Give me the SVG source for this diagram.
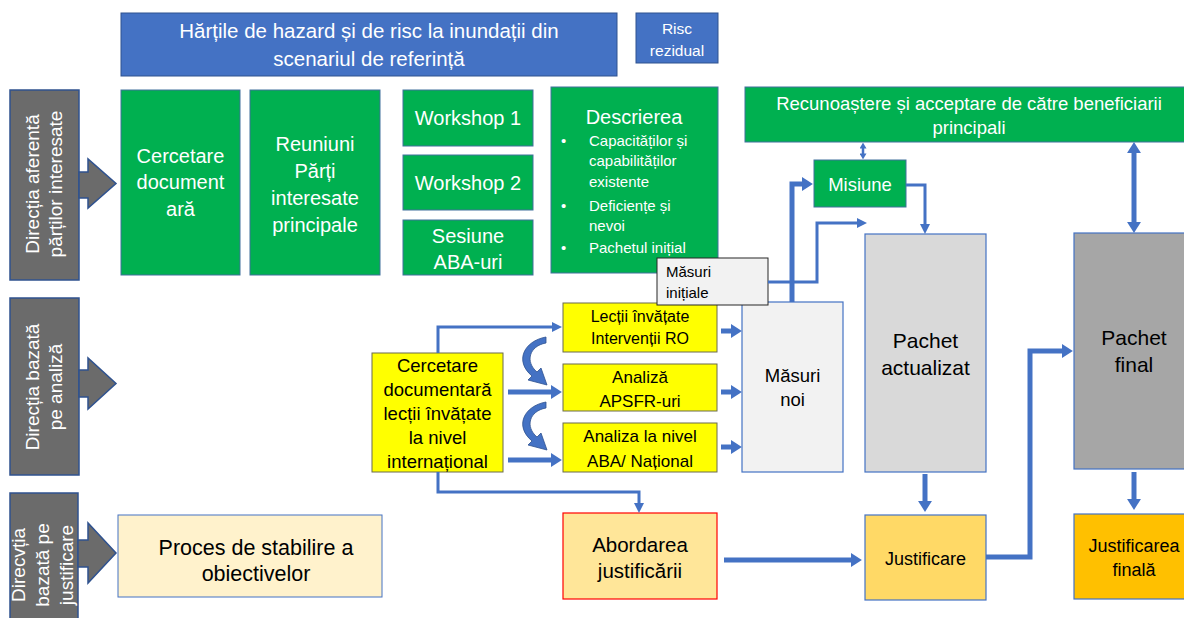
<svg xmlns="http://www.w3.org/2000/svg" width="1184" height="618" viewBox="0 0 1184 618">
<style>
text{font-family:"Liberation Sans",Arial,sans-serif;}
.w{fill:#ffffff;}
.k{fill:#000000;}
.c{text-anchor:middle;}
.blue{fill:#4472c4;stroke:#2f528f;stroke-width:1;}
.green{fill:#00b050;stroke:#41719c;stroke-width:1;}
.panel{fill:#6b6b6b;stroke:#2f528f;stroke-width:1.5;}
.yel{fill:#ffff00;stroke:#6b6b50;stroke-width:1;}
.ln{fill:none;stroke:#4472c4;stroke-width:3;}
.th{fill:none;stroke:#4472c4;stroke-width:5;}
.blk{fill:#4472c4;stroke:#2f528f;stroke-width:0.8;}
</style>
<defs>
<marker id="a0" viewBox="0 0 10 10" refX="1" refY="5" markerWidth="6" markerHeight="7" markerUnits="userSpaceOnUse" orient="auto-start-reverse" preserveAspectRatio="none"><path d="M0,0 L10,5 L0,10 z" fill="#4472c4"/></marker>
<marker id="a1" viewBox="0 0 10 10" refX="1" refY="5" markerWidth="10" markerHeight="10" markerUnits="userSpaceOnUse" orient="auto-start-reverse"><path d="M0,0 L10,5 L0,10 z" fill="#4472c4"/></marker>
<marker id="a2" viewBox="0 0 10 10" refX="1" refY="5" markerWidth="11" markerHeight="14" markerUnits="userSpaceOnUse" orient="auto-start-reverse" preserveAspectRatio="none"><path d="M0,0 L10,5 L0,10 z" fill="#4472c4"/></marker>
</defs>

<!-- Left direction panels -->
<g id="panel-stakeholders">
<rect class="panel" x="10" y="90" width="69" height="190"/>
<path class="panel" d="M79,172 L88,172 L88,159 L116,183.5 L88,208 L88,198 L79,198 Z"/>
<g transform="translate(0,184) rotate(-90)">
<text class="w c" x="0" y="39" font-size="19">Direcția aferentă</text>
<text class="w c" x="0" y="62" font-size="19">părților interesate</text>
</g>
</g>
<g id="panel-analysis">
<rect class="panel" x="10" y="298" width="69" height="177"/>
<path class="panel" d="M79,370 L88,370 L88,358 L116,383.5 L88,409 L88,397 L79,397 Z"/>
<g transform="translate(0,387) rotate(-90)">
<text class="w c" x="0" y="39" font-size="19">Direcția bazată</text>
<text class="w c" x="0" y="62" font-size="19">pe analiză</text>
</g>
</g>
<g id="panel-justification">
<rect class="panel" x="10" y="493" width="68" height="140"/>
<path class="panel" d="M78,540 L88,540 L88,523 L116,553 L88,583 L88,567 L78,567 Z"/>
<g transform="translate(0,565) rotate(-90)">
<text class="w c" x="0" y="25" font-size="19">Direcvția</text>
<text class="w c" x="0" y="49" font-size="19">bazată pe</text>
<text class="w c" x="0" y="73" font-size="19">justificare</text>
</g>
</g>

<!-- Top row -->
<g id="hazard-maps">
<rect class="blue" x="121" y="13" width="496" height="63"/>
<text class="w c" x="369" y="38" font-size="20.5">Hărțile de hazard și de risc la inundații din</text>
<text class="w c" x="369" y="66" font-size="20.5">scenariul de referință</text>
</g>
<g id="residual-risk">
<rect class="blue" x="636" y="13" width="82" height="50"/>
<text class="w c" x="677" y="34" font-size="15.5">Risc</text>
<text class="w c" x="677" y="56" font-size="15.5">rezidual</text>
</g>

<!-- Green boxes -->
<g id="desk-research">
<rect class="green" x="121" y="90" width="119" height="185"/>
<text class="w c" x="180.5" y="163" font-size="20">Cercetare</text>
<text class="w c" x="180.5" y="189" font-size="20">document</text>
<text class="w c" x="180.5" y="216" font-size="20">ară</text>
</g>
<g id="stakeholder-meetings">
<rect class="green" x="250" y="90" width="130" height="185"/>
<text class="w c" x="315" y="151" font-size="20">Reuniuni</text>
<text class="w c" x="315" y="178" font-size="20">Părți</text>
<text class="w c" x="315" y="205" font-size="20">interesate</text>
<text class="w c" x="315" y="232" font-size="20">principale</text>
</g>
<g id="workshop-1">
<rect class="green" x="403" y="90" width="130" height="56"/>
<text class="w c" x="468" y="125" font-size="20">Workshop 1</text>
</g>
<g id="workshop-2">
<rect class="green" x="403" y="155" width="130" height="55"/>
<text class="w c" x="468" y="190" font-size="20">Workshop 2</text>
</g>
<g id="aba-session">
<rect class="green" x="403" y="220" width="130" height="55"/>
<text class="w c" x="468" y="243" font-size="20">Sesiune</text>
<text class="w c" x="468" y="269" font-size="20">ABA-uri</text>
</g>
<g id="description">
<rect class="green" x="551" y="87" width="167" height="186"/>
<text class="w c" x="634" y="124" font-size="20">Descrierea</text>
<g font-size="15">
<text class="w" x="561" y="146">•</text><text class="w" x="589" y="146">Capacităților și</text>
<text class="w" x="589" y="166">capabilităților</text>
<text class="w" x="589" y="187">existente</text>
<text class="w" x="561" y="211">•</text><text class="w" x="589" y="211">Deficiențe și</text>
<text class="w" x="589" y="231">nevoi</text>
<text class="w" x="561" y="253">•</text><text class="w" x="589" y="253">Pachetul inițial</text>
</g>
</g>
<g id="recognition">
<rect class="green" x="745" y="87" width="445" height="55"/>
<text class="w c" x="969" y="110" font-size="18.5">Recunoaștere și acceptare de către beneficiarii</text>
<text class="w c" x="969" y="134" font-size="18.5">principali</text>
</g>
<g id="mission">
<rect class="green" x="814" y="160" width="92" height="47"/>
<text class="w c" x="860" y="191" font-size="18.5">Misiune</text>
</g>

<!-- Yellow analysis boxes -->
<g id="intl-research">
<rect class="yel" x="372" y="353" width="131" height="119"/>
<g font-size="18.5">
<text class="k c" x="437.5" y="372">Cercetare</text>
<text class="k c" x="437.5" y="396">documentară</text>
<text class="k c" x="437.5" y="420">lecții învățate</text>
<text class="k c" x="437.5" y="444">la nivel</text>
<text class="k c" x="437.5" y="468">internațional</text>
</g>
</g>
<g id="lessons-ro">
<rect class="yel" x="563" y="303" width="154" height="49"/>
<text class="k c" x="640" y="322" font-size="16">Lecții învățate</text>
<text class="k c" x="640" y="344" font-size="16">Intervenții RO</text>
</g>
<g id="apsfr">
<rect class="yel" x="563" y="364" width="154" height="47"/>
<text class="k c" x="640" y="383" font-size="17">Analiză</text>
<text class="k c" x="640" y="407" font-size="17">APSFR-uri</text>
</g>
<g id="aba-national">
<rect class="yel" x="563" y="423" width="154" height="49"/>
<text class="k c" x="640" y="442" font-size="17">Analiza la nivel</text>
<text class="k c" x="640" y="467" font-size="17">ABA/ Național</text>
</g>

<!-- Measures -->
<g id="new-measures">
<rect x="742" y="302" width="101" height="170" fill="#f2f2f2" stroke="#4472c4" stroke-width="1.2"/>
<text class="k c" x="792.5" y="382" font-size="18.5">Măsuri</text>
<text class="k c" x="792.5" y="406" font-size="18.5">noi</text>
</g>
<g id="initial-measures">
<rect x="657" y="258" width="111" height="47" fill="#f2f2f2" stroke="#262626" stroke-width="1"/>
<text class="k" x="666" y="277" font-size="15">Măsuri</text>
<text class="k" x="666" y="298" font-size="15">inițiale</text>
</g>

<!-- Packages -->
<g id="updated-package">
<rect x="865" y="234" width="121" height="238" fill="#d9d9d9" stroke="#4472c4" stroke-width="1.2"/>
<text class="k c" x="925.5" y="348" font-size="21">Pachet</text>
<text class="k c" x="925.5" y="375" font-size="21">actualizat</text>
</g>
<g id="final-package">
<rect x="1074" y="233" width="116" height="236" fill="#a6a6a6" stroke="#4472c4" stroke-width="1.2"/>
<text class="k c" x="1134" y="345" font-size="21">Pachet</text>
<text class="k c" x="1134" y="372" font-size="21">final</text>
</g>

<!-- Bottom row -->
<g id="objectives">
<rect x="118" y="515" width="264" height="82" fill="#fff2cc" stroke="#4472c4" stroke-width="1"/>
<text class="k c" x="256" y="555" font-size="21.5">Proces de stabilire a</text>
<text class="k c" x="256" y="581" font-size="21.5">obiectivelor</text>
</g>
<g id="justification-approach">
<rect x="563" y="513" width="154" height="86" fill="#ffe699" stroke="#ff0000" stroke-width="1.2"/>
<text class="k c" x="640" y="552" font-size="20.5">Abordarea</text>
<text class="k c" x="640" y="578" font-size="20.5">justificării</text>
</g>
<g id="justification">
<rect x="865" y="515" width="121" height="85" fill="#ffd966" stroke="#4472c4" stroke-width="1.2"/>
<text class="k c" x="925.5" y="565" font-size="18">Justificare</text>
</g>
<g id="final-justification">
<rect x="1074" y="514" width="116" height="85" fill="#ffc000" stroke="#4472c4" stroke-width="1.2"/>
<text class="k c" x="1134" y="552" font-size="18">Justificarea</text>
<text class="k c" x="1134" y="576" font-size="18">finală</text>
</g>

<!-- Connectors -->
<g id="connectors">
<path class="ln" d="M438,353 L438,327 L553,327" marker-end="url(#a1)"/>
<path class="th" d="M508,392 L552,392" marker-end="url(#a2)"/>
<path class="th" d="M508,460 L552,460" marker-end="url(#a2)"/>
<path class="ln" d="M438,472 L438,492 L639,492 L639,504" marker-end="url(#a1)"/>
<path class="blk" d="M546,337 C524,341 514,361 532,376 L528,380 L547,385 L541,368 L537,372 C525,362 529,346 546,343 Z"/>
<path class="blk" d="M546,402 C524,406 514,426 532,441 L528,445 L547,450 L541,433 L537,437 C525,427 529,411 546,408 Z"/>
<path class="th" d="M721,331 L732,331" marker-end="url(#a2)"/>
<path class="th" d="M721,392 L732,392" marker-end="url(#a2)"/>
<path class="th" d="M721,447 L732,447" marker-end="url(#a2)"/>
<path class="th" d="M792,302 L792,184 L803,184" marker-end="url(#a2)"/>
<path class="ln" d="M768,282 L817,282 L817,223 L858,223" marker-end="url(#a1)"/>
<path class="ln" d="M906,185 L925,185 L925,225" marker-end="url(#a1)"/>
<path d="M863,148 L863,154" fill="none" stroke="#4472c4" stroke-width="2.5" marker-start="url(#a0)" marker-end="url(#a0)"/>
<path class="th" d="M1134,152 L1134,223" marker-start="url(#a2)" marker-end="url(#a2)"/>
<path class="th" d="M925,474 L925,502" marker-end="url(#a2)"/>
<path class="th" d="M1134,472 L1134,500" marker-end="url(#a2)"/>
<path class="th" d="M724,560 L852,560" marker-end="url(#a2)"/>
<path class="th" d="M986,557 L1030,557 L1030,351 L1063,351" marker-end="url(#a2)"/>
</g>
</svg>
